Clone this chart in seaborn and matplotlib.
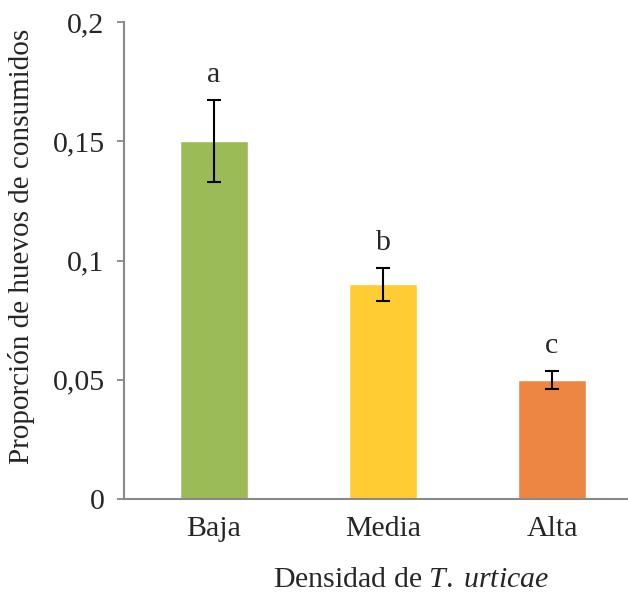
import matplotlib
matplotlib.use("Agg")
import matplotlib.pyplot as plt
import seaborn as sns
import pandas as pd
from matplotlib.ticker import FixedLocator

categories = ["Baja", "Media", "Alta"]
values = [0.15, 0.09, 0.05]
errors = [0.0172, 0.0069, 0.0038]
letters = ["a", "b", "c"]
colors = ["#9BBB59", "#FFCC33", "#EE8643"]
yticks = [0, 0.05, 0.1, 0.15, 0.2]
ytick_labels = ["0", "0,05", "0,1", "0,15", "0,2"]

sns.set_theme(style="white")
plt.rcParams["font.family"] = ["Liberation Serif", "DejaVu Serif"]
plt.rcParams["mathtext.fontset"] = "custom"
plt.rcParams["mathtext.rm"] = "Liberation Serif"
plt.rcParams["mathtext.it"] = "Liberation Serif:italic"

FS = 21.5

df = pd.DataFrame({"cat": categories, "val": values})

fig = plt.figure(figsize=(6.28, 5.97), dpi=100)
ax = fig.add_axes([124/628, 98/597, 504/628, 477/597])

sns.barplot(data=df, x="cat", y="val", hue="cat", palette=colors,
            order=categories, width=0.40, errorbar=None, legend=False, ax=ax,
            saturation=1)

xs = list(range(len(categories)))
ax.errorbar(xs, values, yerr=errors, fmt="none", ecolor="black",
            elinewidth=1.5, capsize=5, capthick=1.5)

for x, v, e, l in zip(xs, values, errors, letters):
    ax.annotate(l, (x, v + e), xytext=(0, 13), textcoords="offset points",
                ha="center", va="baseline", fontsize=FS)

ax.set_xlim(-0.533, 2.45)
ax.set_ylim(0, 0.2)
ax.yaxis.set_major_locator(FixedLocator(yticks))
ax.set_yticklabels(ytick_labels, fontsize=FS)
ax.tick_params(axis="y", length=5, width=1.3, color="#898989", pad=9, left=True)
ax.tick_params(axis="x", length=0, pad=12, labelsize=FS)

for s in ["top", "right"]:
    ax.spines[s].set_visible(False)
for s in ["left", "bottom"]:
    ax.spines[s].set_color("#898989")
    ax.spines[s].set_linewidth(1.5)

ax.set_xlabel("")
ax.set_ylabel("Proporción de huevos de consumidos", fontsize=21)
ax.yaxis.set_label_coords(-0.176, 0.53)

fig.text(411/628, 1 - 580/597, "Densidad de $\\mathit{T.}\\;\\mathit{urticae}$",
         ha="center", va="center", fontsize=FS)

fig.savefig("out.png", dpi=100)
